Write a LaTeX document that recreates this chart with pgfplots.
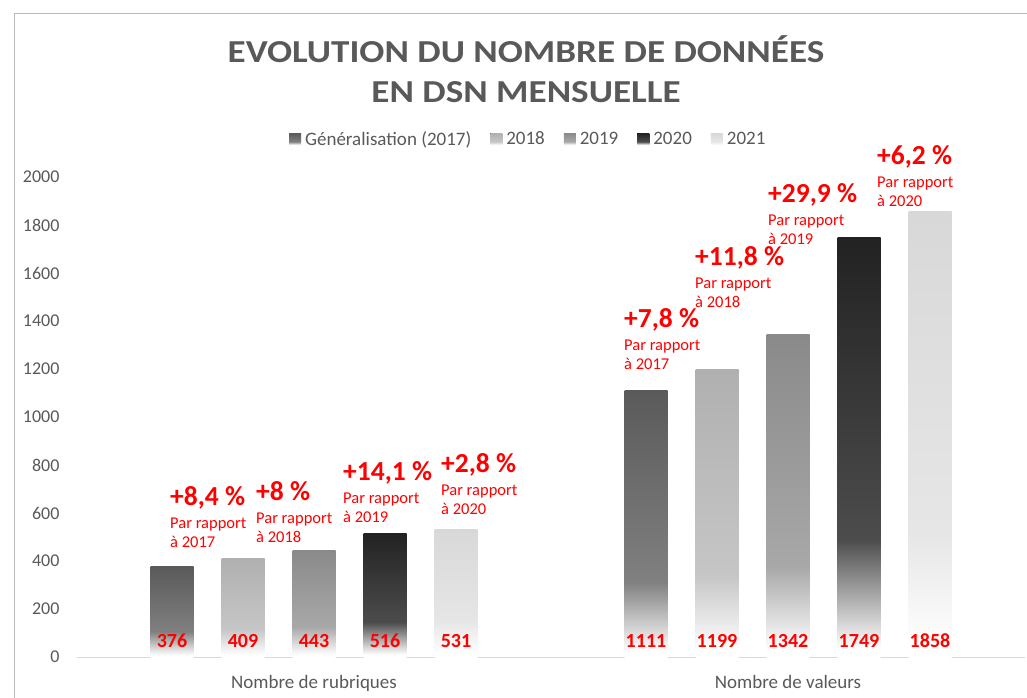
\documentclass[border=0pt]{standalone}
\usepackage{fontspec}
\setmainfont{Carlito}
\newfontfamily\titlefont{Carlito}[FakeStretch=1.16]
\usepackage{pgfplots}
\pgfplotsset{compat=1.18}

\definecolor{txtgray}{HTML}{595959}
\definecolor{t17}{HTML}{5A5A5A}\definecolor{m17}{HTML}{808080}
\definecolor{t18}{HTML}{B0B0B0}\definecolor{m18}{HTML}{C6C6C6}
\definecolor{t19}{HTML}{8A8A8A}\definecolor{m19}{HTML}{A8A8A8}
\definecolor{t20}{HTML}{222222}\definecolor{m20}{HTML}{4C4C4C}
\definecolor{t21}{HTML}{D8D8D8}\definecolor{m21}{HTML}{E6E6E6}

% the path fills the 25bp..75bp band of the shading
\pgfdeclareverticalshading{s17}{100bp}{color(0bp)=(white); color(26bp)=(white); color(39bp)=(m17); color(75bp)=(t17); color(100bp)=(t17)}
\pgfdeclareverticalshading{s18}{100bp}{color(0bp)=(white); color(26bp)=(white); color(39bp)=(m18); color(75bp)=(t18); color(100bp)=(t18)}
\pgfdeclareverticalshading{s19}{100bp}{color(0bp)=(white); color(26bp)=(white); color(39bp)=(m19); color(75bp)=(t19); color(100bp)=(t19)}
\pgfdeclareverticalshading{s20}{100bp}{color(0bp)=(white); color(26bp)=(white); color(39bp)=(m20); color(75bp)=(t20); color(100bp)=(t20)}
\pgfdeclareverticalshading{s21}{100bp}{color(0bp)=(white); color(26bp)=(white); color(39bp)=(m21); color(75bp)=(t21); color(100bp)=(t21)}

\newcommand\pct[4]{%
  \node[anchor=base west, inner sep=0pt, text=red, font=\bfseries\fontsize{27.5}{30}\selectfont] at (axis cs:#1,#2) {#3};
  \node[anchor=base west, inner sep=0pt, text=red, font=\fontsize{16.5}{18}\selectfont, yshift=-23pt] at (axis cs:#1,#2) {Par rapport};
  \node[anchor=base west, inner sep=0pt, text=red, font=\fontsize{16.5}{18}\selectfont, yshift=-42pt] at (axis cs:#1,#2) {à #4};}

\pgfplotsset{lg/.style={legend image code/.code={\fill[##1] (0pt,-6pt) rectangle (12pt,6pt);}}}

\begin{document}
\begin{tikzpicture}
\path[use as bounding box] (0,0) rectangle (1027pt,697pt);
\draw[gray!55, line width=1pt] (14pt,-10pt) -- (14pt,683pt) -- (1040pt,683pt);

\begin{axis}[
  at={(77pt,40pt)}, anchor=south west,
  scale only axis, width=948pt, height=480pt,
  xmin=-0.5, xmax=1.5, ymin=0, ymax=2000,
  ybar, bar width=43pt,
  clip=false,
  axis x line*=bottom, axis y line*=left,
  x axis line style={draw=gray!30, line width=1pt},
  y axis line style={draw=none},
  major tick length=0pt,
  ytick={0,200,...,2000},
  xtick={0,1},
  xticklabels={Nombre de rubriques, Nombre de valeurs},
  /pgf/number format/assume math mode=true,
  /pgf/number format/1000 sep={},
  yticklabel style={font=\fontsize{18}{20}\selectfont, text=txtgray, xshift=-14pt},
  xticklabel style={font=\fontsize{19}{21}\selectfont, text=txtgray, anchor=base, yshift=-31pt},
  nodes near coords,
  visualization depends on=y \as \rawy,
  every node near coord/.append style={shift={(axis direction cs:0,-\rawy)}, anchor=base, yshift=10pt,
    font=\bfseries\fontsize{20}{22}\selectfont, text=red, inner sep=0pt},
  legend style={at={(axis description cs:0.476,1.079)}, anchor=center, draw=none, fill=none,
    legend columns=5, font=\fontsize{19}{21}\selectfont, text=txtgray,
    /tikz/every odd column/.append style={column sep=2pt},
    /tikz/every even column/.append style={column sep=17pt}},
]
\addplot[draw=none, shade, shading=s17, bar shift=-142pt, lg] coordinates {(0,376)};
\addlegendentry{Généralisation (2017)}
\addplot[draw=none, shade, shading=s18, bar shift=-71pt, lg] coordinates {(0,409)};
\addlegendentry{2018}
\addplot[draw=none, shade, shading=s19, bar shift=0pt, lg] coordinates {(0,443)};
\addlegendentry{2019}
\addplot[draw=none, shade, shading=s20, bar shift=71pt, lg] coordinates {(0,516)};
\addlegendentry{2020}
\addplot[draw=none, shade, shading=s21, bar shift=142pt, lg] coordinates {(0,531)};
\addlegendentry{2021}

\addplot[draw=none, shade, shading=s17, bar shift=-142pt, forget plot] coordinates {(1,1111)};
\addplot[draw=none, shade, shading=s18, bar shift=-71pt, forget plot] coordinates {(1,1199)};
\addplot[draw=none, shade, shading=s19, bar shift=0pt, forget plot] coordinates {(1,1342)};
\addplot[draw=none, shade, shading=s20, bar shift=71pt, forget plot] coordinates {(1,1749)};
\addplot[draw=none, shade, shading=s21, bar shift=142pt, forget plot] coordinates {(1,1858)};

\pct{-0.3038}{633}{+8,4 \%}{2017}
\pct{-0.1224}{654}{+8 \%}{2018}
\pct{0.0612}{737}{+14,1 \%}{2019}
\pct{0.2679}{767}{+2,8 \%}{2020}
\pct{0.6540}{1375}{+7,8 \%}{2017}
\pct{0.8038}{1633}{+11,8 \%}{2018}
\pct{0.9578}{1892}{+29,9 \%}{2019}
\pct{1.1878}{2050}{+6,2 \%}{2020}
\end{axis}

\node[anchor=base, font=\titlefont\bfseries\fontsize{32}{38}\selectfont, text=txtgray] at (526pt,634pt) {EVOLUTION DU NOMBRE DE DONNÉES};
\node[anchor=base, font=\titlefont\bfseries\fontsize{32}{38}\selectfont, text=txtgray] at (526pt,594pt) {EN DSN MENSUELLE};
\end{tikzpicture}
\end{document}
